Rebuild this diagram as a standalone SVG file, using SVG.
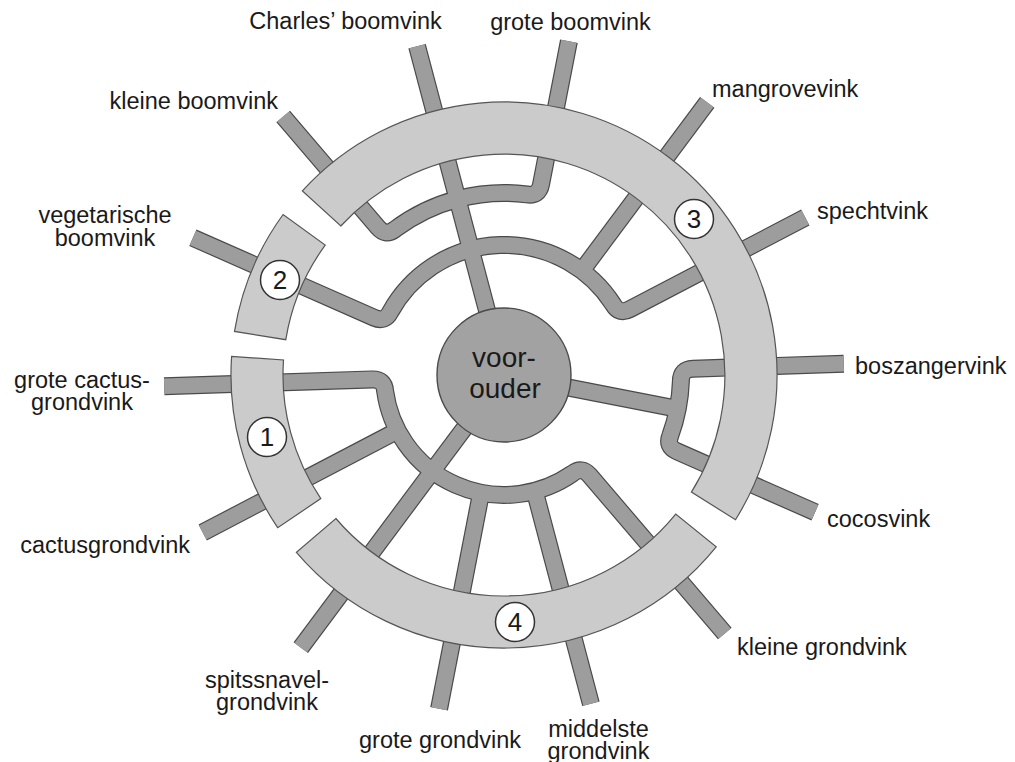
<svg xmlns="http://www.w3.org/2000/svg" xmlns:xlink="http://www.w3.org/1999/xlink" width="1015" height="762" viewBox="0 0 1015 762">
<style>
  .lbl{font-family:"Liberation Sans",Arial,Helvetica,sans-serif;font-size:23.5px;fill:#1a1a1a}
  .mid{text-anchor:middle}
  .end{text-anchor:end}
  .edge-o{fill:none;stroke:#4a4a4a;stroke-width:18;stroke-linejoin:round}
  .edge-i{fill:none;stroke:#9d9d9d;stroke-width:15.6;stroke-linejoin:round}
  .band{fill:#cbcbcb;stroke:#555;stroke-width:1.2}
  .numc{fill:#fff;stroke:#333;stroke-width:1.5}
  .numt{font-family:"Liberation Sans",Arial,sans-serif;font-size:26px;fill:#1a1a1a;text-anchor:middle}
  .root{fill:#a2a2a2;stroke:#4a4a4a;stroke-width:1.4}
  .roott{font-family:"Liberation Sans",Arial,sans-serif;font-size:28px;fill:#1a1a1a;text-anchor:middle}
</style>
<rect width="1015" height="762" fill="#fff"/>
<g id="connectors">
  <g class="edge-o">
    <path id="e-charles" d="M493.8,336.3 L417.1,46.3"/>
    <path id="e-spitssnavel" d="M480.1,407.1 L300.8,647.6"/>
    <path id="e-bosroot" d="M543.3,382.6 L677.7,408.8"/>
    <path id="e-bosclade" d="M843.8,363.7 L692.9,368.7 Q680.9,369.1 680.9,381.1 A177,177 0 0 1 670.4,435.3 Q665.9,446.4 676.9,451.3 L815.1,512.2"/>
    <path id="e-tree" d="M805.3,217.5 L629.8,309.2 Q619.2,314.8 613.2,304.4 A130,130 0 0 0 390.4,311.8 Q385.1,322.5 374.1,317.7 L192.9,237.8"/>
    <path id="e-mangrove" d="M581.7,270.8 L707.2,102.4"/>
    <path id="e-boom" d="M568.9,41.2 L541.0,184.6 Q538.7,196.3 526.9,194.4 A182,182 0 0 0 395.2,229.1 Q385.8,236.6 378.0,227.5 L283.2,116.5"/>
    <path id="e-ground" d="M164.2,386.3 L372.1,379.4 Q384.1,379.0 385.1,390.9 A120,120 0 0 0 572.5,473.5 Q581.9,466.2 589.7,475.4 L724.8,633.5"/>
    <path id="e-cactusgrond" d="M397.7,430.6 L202.7,532.5"/>
    <path id="e-grotegrond" d="M481.1,492.8 L439.1,708.8"/>
    <path id="e-middelste" d="M534.7,491.0 L590.9,703.7"/>
  </g>
  <g class="edge-i">
    <use href="#e-charles"/>
    <use href="#e-spitssnavel"/>
    <use href="#e-bosroot"/>
    <use href="#e-bosclade"/>
    <use href="#e-tree"/>
    <use href="#e-mangrove"/>
    <use href="#e-boom"/>
    <use href="#e-ground"/>
    <use href="#e-cactusgrond"/>
    <use href="#e-grotegrond"/>
    <use href="#e-middelste"/>
  </g>
</g>
<g id="band-3">
  <path class="band" d="M735.5,519.7 A273,273 0 0 0 302.4,190.9 L340.8,226 A221,221 0 0 1 691.4,492.1 Z"/>
  <circle class="numc" cx="694" cy="219" r="19.5"/>
  <text class="numt" x="694" y="228.3">3</text>
</g>
<g id="band-2">
  <path class="band" d="M283.1,214.5 A273,273 0 0 0 234.5,331.4 L285.8,339.7 A221,221 0 0 1 325.2,245.1 Z"/>
  <circle class="numc" cx="280" cy="280" r="19.5"/>
  <text class="numt" x="280" y="289.3">2</text>
</g>
<g id="band-1">
  <path class="band" d="M231.6,356.4 A273,273 0 0 0 277.7,527.7 L320.8,498.6 A221,221 0 0 1 283.5,360 Z"/>
  <circle class="numc" cx="267" cy="437" r="19.5"/>
  <text class="numt" x="267" y="446.3">1</text>
</g>
<g id="band-4">
  <path class="band" d="M296.4,552.3 A273,273 0 0 0 716.2,546.8 L675.7,514.1 A221,221 0 0 1 335.9,518.5 Z"/>
  <circle class="numc" cx="515" cy="622" r="19.5"/>
  <text class="numt" x="515" y="631.3">4</text>
</g>
<g id="voorouder">
  <circle class="root" cx="504" cy="375" r="67"/>
  <text class="roott" x="504" y="367">voor-</text>
  <text class="roott" x="505" y="398">ouder</text>
</g>
<g id="charles-boomvink"><text class="lbl mid" x="345.5" y="29">Charles’ boomvink</text></g>
<g id="grote-boomvink"><text class="lbl mid" x="570.5" y="30">grote boomvink</text></g>
<g id="kleine-boomvink"><text class="lbl end" x="278" y="109">kleine boomvink</text></g>
<g id="mangrovevink"><text class="lbl" x="712" y="97">mangrovevink</text></g>
<g id="spechtvink"><text class="lbl" x="817" y="219">spechtvink</text></g>
<g id="boszangervink"><text class="lbl" x="855" y="374">boszangervink</text></g>
<g id="cocosvink"><text class="lbl" x="827" y="527">cocosvink</text></g>
<g id="kleine-grondvink"><text class="lbl" x="737" y="655">kleine grondvink</text></g>
<g id="middelste-grondvink"><text class="lbl mid" x="598.5" y="737">middelste</text><text class="lbl mid" x="598.5" y="759">grondvink</text></g>
<g id="grote-grondvink"><text class="lbl mid" x="440" y="748">grote grondvink</text></g>
<g id="spitssnavel-grondvink"><text class="lbl mid" x="267" y="688">spitssnavel-</text><text class="lbl mid" x="267" y="710">grondvink</text></g>
<g id="cactusgrondvink"><text class="lbl end" x="190" y="553">cactusgrondvink</text></g>
<g id="grote-cactusgrondvink"><text class="lbl mid" x="82" y="388">grote cactus-</text><text class="lbl mid" x="82" y="410">grondvink</text></g>
<g id="vegetarische-boomvink"><text class="lbl mid" x="105" y="223">vegetarische</text><text class="lbl mid" x="105" y="246">boomvink</text></g>
</svg>
